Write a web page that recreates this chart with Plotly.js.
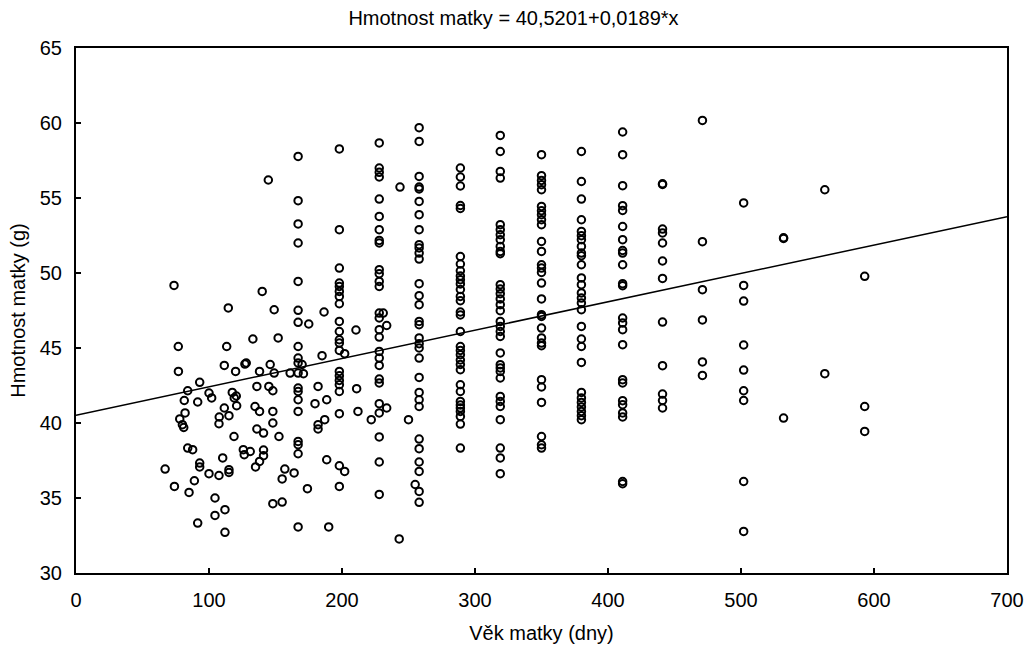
<!DOCTYPE html>
<html>
<head>
<meta charset="utf-8">
<script src="https://cdn.plot.ly/plotly-3.0.1.min.js"></script>
<style>html,body{margin:0;padding:0;background:#fff;}#chart{width:1027px;height:650px;}</style>
</head>
<body>
<div id="chart"></div>
<script>
// Regression line parameters (from title)
const intercept = 40.5201;
const slope = 0.0189;
const lineAgeRange = [0, 700];

// Ages (days) at which many mothers were measured (monthly columns)
const columnAges = [167, 198, 228, 258, 289, 319, 350, 380, 411, 441, 471, 502, 532, 563, 593];
const col167 = [57.77, 54.82, 53.27, 52.0, 49.44, 47.51, 46.71, 45.1, 44.33, 44.0, 43.33, 42.33, 42.1, 41.55, 40.77, 38.77, 38.55, 37.95, 33.07];
const col198 = [58.27, 52.89, 50.33, 49.33, 49.1, 48.77, 48.44, 47.95, 46.77, 46.1, 45.55, 45.33, 44.84, 43.44, 43.15, 42.84, 42.55, 42.1, 40.62, 37.15, 35.77];
const col228 = [58.67, 57.0, 56.71, 56.4, 54.93, 53.77, 52.89, 52.17, 52.0, 50.22, 49.95, 49.44, 49.1, 47.33, 47.0, 46.22, 45.73, 44.77, 44.33, 43.84, 42.93, 42.67, 41.29, 40.67, 39.07, 37.4, 35.24];
const col258 = [59.69, 58.77, 56.44, 55.73, 55.6, 54.77, 53.89, 52.89, 51.89, 51.67, 51.33, 50.93, 49.29, 48.49, 47.89, 46.77, 46.55, 45.67, 45.29, 45.0, 44.33, 43.04, 42.04, 41.55, 41.1, 38.93, 38.29, 37.4, 36.77, 35.44, 34.71];
const col289 = [57.0, 56.4, 55.8, 54.5, 54.3, 51.1, 50.6, 50.15, 49.8, 49.55, 49.27, 48.9, 48.44, 48.15, 47.4, 47.2, 46.1, 45.1, 44.84, 44.55, 44.2, 43.9, 43.55, 42.55, 42.1, 41.44, 41.2, 41.0, 40.77, 40.44, 39.93, 38.33];
const col319 = [59.17, 58.1, 56.77, 56.33, 53.22, 52.89, 52.55, 52.22, 51.77, 51.44, 51.29, 49.22, 48.93, 48.62, 48.27, 47.89, 47.49, 46.77, 46.44, 46.1, 45.77, 44.67, 43.89, 43.67, 43.44, 43.0, 41.77, 41.44, 41.1, 40.22, 38.33, 37.67, 36.62];
const col350 = [57.89, 56.49, 56.17, 55.89, 55.55, 54.44, 54.15, 53.89, 53.55, 53.22, 52.1, 51.44, 50.55, 50.33, 50.04, 49.33, 48.27, 47.22, 47.1, 46.33, 45.67, 45.33, 45.15, 42.89, 42.4, 41.37, 39.1, 38.55, 38.33];
const col380 = [58.1, 56.1, 54.93, 53.55, 52.77, 52.49, 52.22, 51.77, 51.33, 51.15, 50.55, 49.67, 49.22, 48.67, 48.33, 48.0, 47.55, 46.44, 45.6, 45.1, 44.04, 42.04, 41.67, 41.37, 41.07, 40.77, 40.49, 40.22];
const col411 = [59.4, 57.89, 55.82, 54.49, 54.17, 53.1, 52.22, 51.5, 51.33, 50.55, 49.29, 49.15, 47.0, 46.67, 46.22, 45.22, 42.89, 42.67, 41.49, 41.22, 40.67, 40.4, 36.1, 35.95];
const col441 = [55.95, 55.9, 52.93, 52.67, 52.0, 50.8, 49.64, 46.73, 43.82, 41.93, 41.5, 41.0];
const col471 = [60.17, 52.09, 48.89, 46.87, 44.07, 43.17];
const col502 = [54.67, 49.17, 48.13, 45.2, 43.53, 42.15, 41.5, 36.1, 32.77];
const col532 = [52.35, 52.3, 40.33];
const col563 = [55.55, 43.29];
const col593 = [49.78, 41.1, 39.44];
const columnMasses = [col167, col198, col228, col258, col289, col319, col350, col380, col411, col441, col471, col502, col532, col563, col593];

// Individually scattered points (younger mothers and off-column points)
const looseAge = [73.7, 114.5, 76.9, 113.3, 133, 152, 77, 111.5, 120, 127, 128, 93, 84, 81.4, 91.5, 100, 102, 117.5, 119, 120.5, 120.8, 111.5, 107.7, 115, 107.5, 136, 134.6, 138, 136, 82, 78, 80, 81, 118.8, 84, 87.7, 125.8, 126.5, 131, 110.3, 93, 93, 67, 100, 107.5, 115, 115, 135, 74, 89, 85, 104.5, 104.5, 112, 91.5, 112,
  144.6, 140, 149, 175, 186.5, 146, 149, 138, 145, 148, 182, 185, 188.5, 179.7, 187, 182, 182, 148, 148, 141, 152.6, 141, 141, 138, 157, 155, 164, 174, 188.5, 148, 155, 190, 161, 171, 170,
  202, 202, 231, 233.6, 233.6, 222, 211, 212, 210.5, 243.6, 250, 243, 255];
const looseMass = [49.17, 47.67, 45.1, 45.1, 45.6, 45.67, 43.44, 43.84, 43.44, 43.93, 44.0, 42.71, 42.15, 41.5, 41.4, 42.0, 41.67, 42.04, 41.67, 41.8, 41.15, 41.0, 40.4, 40.49, 39.95, 42.44, 41.1, 40.77, 39.6, 40.67, 40.27, 39.89, 39.7, 39.1, 38.33, 38.22, 38.22, 37.89, 38.1, 37.67, 37.33, 37.07, 36.93, 36.62, 36.5, 36.89, 36.7, 37.07, 35.77, 36.15, 35.37, 35.0, 33.84, 34.22, 33.33, 32.71,
  56.2, 48.77, 47.55, 46.6, 47.4, 43.9, 43.33, 43.44, 42.44, 42.15, 42.44, 44.49, 41.55, 41.29, 40.22, 39.89, 39.6, 40.77, 40.0, 39.33, 39.1, 38.2, 37.82, 37.44, 36.93, 36.27, 36.67, 35.62, 37.55, 34.62, 34.73, 33.07, 43.33, 43.29, 43.9,
  44.62, 36.77, 47.33, 46.5, 41.0, 40.22, 42.29, 40.77, 46.2, 55.73, 40.22, 32.27, 35.9];

const titleText = 'Hmotnost matky = 40,5201+0,0189*x';
const xTitle = 'Věk matky (dny)';
const yTitle = 'Hmotnost matky (g)';

// Build full point lists
const allAge = [];
const allMass = [];
columnAges.forEach((a, i) => {
  columnMasses[i].forEach(m => { allAge.push(a); allMass.push(m); });
});
looseAge.forEach((a, i) => { allAge.push(a); allMass.push(looseMass[i]); });

const lineY = lineAgeRange.map(x => intercept + slope * x);

const font = 'Liberation Sans, Arial, sans-serif';
const data = [
  {
    type: 'scatter', mode: 'markers', x: allAge, y: allMass,
    marker: {symbol: 'circle-open', size: 7.5, color: '#000', line: {width: 2, color: '#000'}},
    hoverinfo: 'x+y', showlegend: false, cliponaxis: false
  },
  {
    type: 'scatter', mode: 'lines', x: lineAgeRange, y: lineY,
    line: {color: '#000', width: 1.5}, showlegend: false
  }
];

const axisCommon = {
  showgrid: false, zeroline: false, showline: true, linecolor: '#000', linewidth: 2,
  mirror: true, ticks: 'inside', ticklen: 5, tickwidth: 1.5, tickcolor: '#000',
  tickfont: {family: font, size: 20, color: '#000'}, ticklabelstandoff: 8
};

const layout = {
  width: 1027, height: 650,
  margin: {l: 76, r: 20, t: 48, b: 77},
  paper_bgcolor: '#fff', plot_bgcolor: '#fff',
  font: {family: font, color: '#000'},
  title: {text: titleText, font: {family: font, size: 20, color: '#000'}, x: 0.5, xanchor: 'center', xref: 'container', y: 0.972, yref: 'container', yanchor: 'middle'},
  xaxis: Object.assign({}, axisCommon, {
    range: [0, 700], dtick: 100, tick0: 0,
    title: {text: xTitle, font: {family: font, size: 20, color: '#000'}, standoff: 16}
  }),
  yaxis: Object.assign({}, axisCommon, {
    range: [30, 65], dtick: 5, tick0: 30,
    title: {text: yTitle, font: {family: font, size: 20, color: '#000'}, standoff: 9}
  })
};

Plotly.newPlot('chart', data, layout, {displayModeBar: false, staticPlot: true});
</script>
</body>
</html>
